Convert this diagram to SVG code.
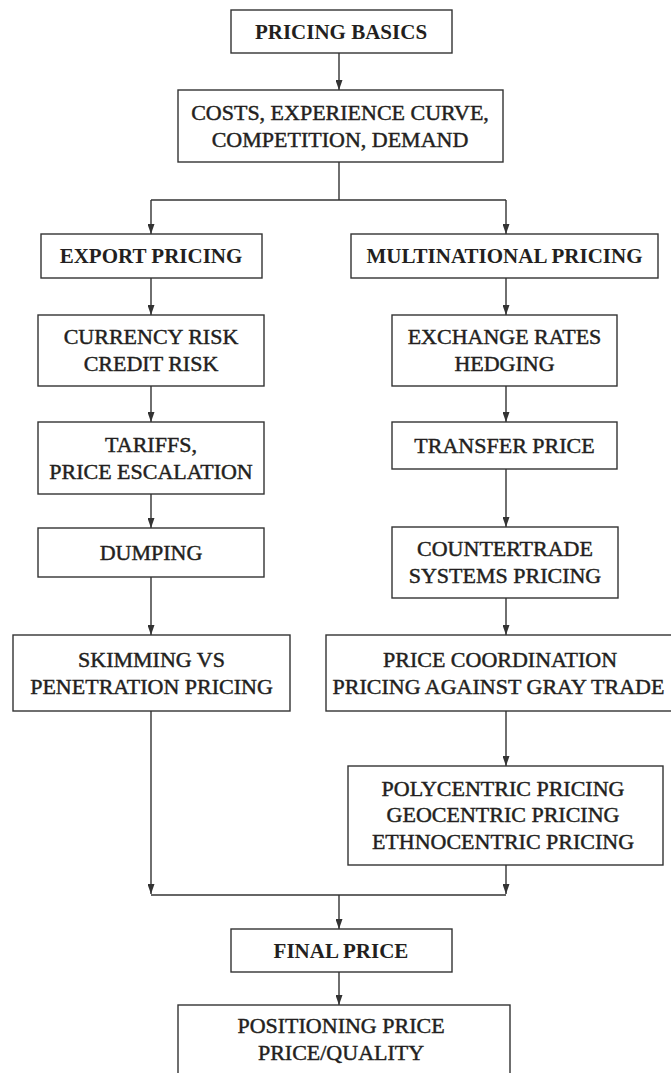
<svg xmlns="http://www.w3.org/2000/svg" width="671" height="1073" viewBox="0 0 671 1073">
  <defs>
    <style>
      .box { fill: #ffffff; stroke: #333333; stroke-width: 1.4; }
      .link { fill: none; stroke: #333333; stroke-width: 1.4; }
      .head { font-family: "Liberation Serif", "Times New Roman", serif; font-size: 21px; font-weight: bold; fill: #231f20; text-anchor: middle; }
      .body { font-family: "Liberation Serif", "Times New Roman", serif; font-size: 22px; font-weight: normal; fill: #231f20; stroke: #231f20; stroke-width: 0.45; text-anchor: middle; }
    </style>
    <marker id="arrow" viewBox="0 0 10 7" refX="10" refY="3.5" markerWidth="10" markerHeight="7" markerUnits="userSpaceOnUse" orient="auto">
      <path d="M0,0 L10,3.5 L0,7 z" fill="#333333"/>
    </marker>
  </defs>
  <rect width="671" height="1073" fill="#ffffff"/>

  <!-- connectors -->
  <g id="connectors">
    <path class="link" d="M339,53 V90" marker-end="url(#arrow)"/>
    <path class="link" d="M339,162 V200"/>
    <path class="link" d="M151,200 H506"/>
    <path class="link" d="M151,200 V234" marker-end="url(#arrow)"/>
    <path class="link" d="M506,200 V234" marker-end="url(#arrow)"/>
    <!-- export column -->
    <path class="link" d="M151,278 V315" marker-end="url(#arrow)"/>
    <path class="link" d="M151,386 V422" marker-end="url(#arrow)"/>
    <path class="link" d="M151,494 V528" marker-end="url(#arrow)"/>
    <path class="link" d="M151,577 V635" marker-end="url(#arrow)"/>
    <path class="link" d="M151,711 V894" marker-end="url(#arrow)"/>
    <!-- multinational column -->
    <path class="link" d="M506,278 V315" marker-end="url(#arrow)"/>
    <path class="link" d="M506,386 V422" marker-end="url(#arrow)"/>
    <path class="link" d="M506,469 V527" marker-end="url(#arrow)"/>
    <path class="link" d="M506,598 V635" marker-end="url(#arrow)"/>
    <path class="link" d="M506,711 V766" marker-end="url(#arrow)"/>
    <path class="link" d="M506,865 V894" marker-end="url(#arrow)"/>
    <!-- merge -->
    <path class="link" d="M151,895 H506"/>
    <path class="link" d="M339,895 V929" marker-end="url(#arrow)"/>
    <path class="link" d="M339,972 V1005" marker-end="url(#arrow)"/>
  </g>

  <g id="pricing-basics">
    <rect class="box" x="231" y="10" width="221" height="43"/>
    <text class="head" x="341" y="38.5">PRICING BASICS</text>
  </g>
  <g id="costs">
    <rect class="box" x="178" y="90" width="325" height="72"/>
    <text class="body" x="340" y="119.5">COSTS, EXPERIENCE CURVE,</text>
    <text class="body" x="340" y="146.5">COMPETITION, DEMAND</text>
  </g>

  <g id="export-pricing">
    <rect class="box" x="41" y="234" width="221" height="44"/>
    <text class="head" x="151" y="263">EXPORT PRICING</text>
  </g>
  <g id="currency-risk">
    <rect class="box" x="38" y="315" width="226" height="71"/>
    <text class="body" x="151" y="344">CURRENCY RISK</text>
    <text class="body" x="151" y="371">CREDIT RISK</text>
  </g>
  <g id="tariffs">
    <rect class="box" x="38" y="422" width="226" height="72"/>
    <text class="body" x="151" y="451.5">TARIFFS,</text>
    <text class="body" x="151" y="478.5">PRICE ESCALATION</text>
  </g>
  <g id="dumping">
    <rect class="box" x="38" y="528" width="226" height="49"/>
    <text class="body" x="151" y="559.5">DUMPING</text>
  </g>
  <g id="skimming">
    <rect class="box" x="13" y="635" width="277" height="76"/>
    <text class="body" x="151.5" y="666.5">SKIMMING VS</text>
    <text class="body" x="151.5" y="693.5">PENETRATION PRICING</text>
  </g>

  <g id="multinational-pricing">
    <rect class="box" x="351" y="234" width="307" height="44"/>
    <text class="head" x="504.5" y="263">MULTINATIONAL PRICING</text>
  </g>
  <g id="exchange-rates">
    <rect class="box" x="392" y="315" width="225" height="71"/>
    <text class="body" x="504.5" y="344">EXCHANGE RATES</text>
    <text class="body" x="504.5" y="371">HEDGING</text>
  </g>
  <g id="transfer-price">
    <rect class="box" x="392" y="422" width="225" height="47"/>
    <text class="body" x="504.5" y="452.5">TRANSFER PRICE</text>
  </g>
  <g id="countertrade">
    <rect class="box" x="392" y="527" width="226" height="71"/>
    <text class="body" x="505" y="556">COUNTERTRADE</text>
    <text class="body" x="505" y="583">SYSTEMS PRICING</text>
  </g>
  <g id="price-coordination">
    <rect class="box" x="326" y="635" width="358" height="76"/>
    <text class="body" x="500" y="666.5">PRICE COORDINATION</text>
    <text class="body" x="498.5" y="693.5">PRICING AGAINST GRAY TRADE</text>
  </g>
  <g id="centric-pricing">
    <rect class="box" x="348" y="766" width="315" height="99"/>
    <text class="body" x="503" y="796">POLYCENTRIC PRICING</text>
    <text class="body" x="503" y="822">GEOCENTRIC PRICING</text>
    <text class="body" x="503" y="848.5">ETHNOCENTRIC PRICING</text>
  </g>

  <g id="final-price">
    <rect class="box" x="231" y="929" width="221" height="43"/>
    <text class="head" x="341" y="957.5">FINAL PRICE</text>
  </g>
  <g id="positioning">
    <rect class="box" x="178" y="1005" width="332" height="80"/>
    <text class="body" x="341" y="1033">POSITIONING PRICE</text>
    <text class="body" x="341" y="1060">PRICE/QUALITY</text>
  </g>
</svg>
